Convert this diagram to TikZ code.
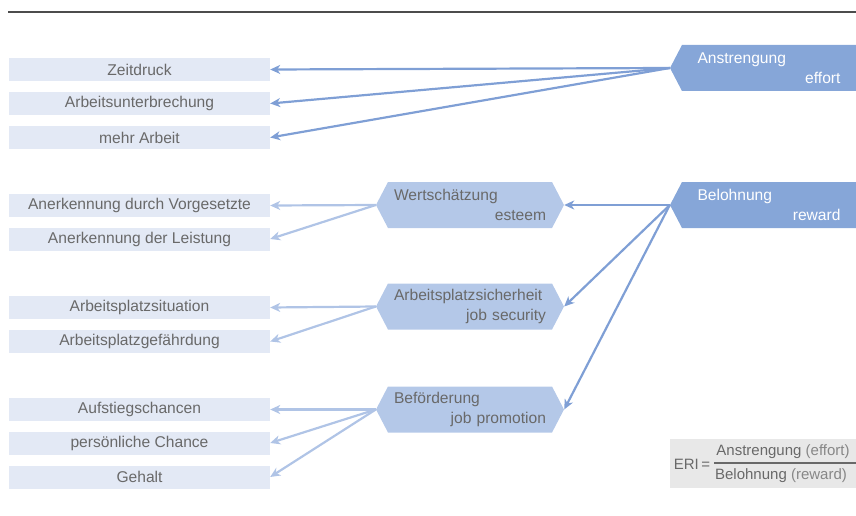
\documentclass[tikz,border=0pt]{standalone}
\usepackage{fontspec}
\setmainfont{Liberation Sans}
\usepackage{tikz}
\usetikzlibrary{arrows.meta, shapes.symbols}
\usepackage{xcolor}
\definecolor{boxblue}{RGB}{227,233,245}
\definecolor{darkhex}{RGB}{134,166,216}
\definecolor{lighthex}{RGB}{180,200,232}
\definecolor{darkarrow}{RGB}{127,159,213}
\definecolor{lightarrow}{RGB}{176,196,230}
\definecolor{textgray}{RGB}{105,105,105}
\definecolor{formulabg}{RGB}{232,232,232}

\begin{document}
\begin{tikzpicture}[
    x=1pt, y=-1pt,
    item/.style={fill=boxblue, text=textgray, minimum width=261pt, minimum height=23pt, inner sep=0pt, font=\fontsize{15.6}{17}\selectfont},
    hex/.style={shape=signal, signal pointer angle=125, minimum height=46pt, inner sep=0pt, align=left, font=\fontsize{15.6}{20}\selectfont},
    mainhex/.style={hex, fill=darkhex, text=white, signal to=west, minimum width=186pt, text width=143pt},
    subhex/.style={hex, fill=lighthex, text=textgray, signal to=west and east, minimum width=188pt, text width=152pt},
    darkline/.style={draw=darkarrow, line width=2.2pt, -{Stealth[length=10pt,width=9pt,inset=3pt]}},
    lightline/.style={draw=lightarrow, line width=2.2pt, -{Stealth[length=10pt,width=9pt,inset=3pt]}}
]
    \useasboundingbox (0,0) rectangle (856,516);
    \draw[black!70, line width=1.5pt] (8,12) -- (856,12);

    % Nodes
    \node[item] (zeit) at (139.5,69.5) {Zeitdruck};
    \node[item] (unter) at (139.5,103.5) {Arbeitsunterbrechung};
    \node[item] (mehr) at (139.5,137.5) {mehr Arbeit};
    \node[item] (vorg) at (139.5,205.5) {Anerkennung durch Vorgesetzte};
    \node[item] (leist) at (139.5,239) {Anerkennung der Leistung};
    \node[item] (situ) at (139.5,307.5) {Arbeitsplatzsituation};
    \node[item] (gefahr) at (139.5,341.5) {Arbeitsplatzgefährdung};
    \node[item] (aufst) at (139.5,409.5) {Aufstiegschancen};
    \node[item] (chance) at (139.5,443) {persönliche Chance};
    \node[item] (gehalt) at (139.5,477) {Gehalt};

    \node[mainhex] (anst) at (769,68) {Anstrengung\\\hspace*{\fill}effort};
    \node[mainhex] (bel) at (769,205) {Belohnung\\\hspace*{\fill}reward};

    \node[subhex] (wert) at (470,205) {Wertschätzung\\\hspace*{\fill}esteem};
    \node[subhex] (sich) at (470,306.5) {Arbeitsplatzsicherheit\\\hspace*{\fill}job security};
    \node[subhex] (befo) at (470,409.5) {Beförderung\\\hspace*{\fill}job promotion};

    % Formula
    \node[fill=formulabg, minimum width=186pt, minimum height=49pt, anchor=north west] (eribox) at (670,439) {};
    \node[text=textgray, font=\fontsize{15}{17}\selectfont] (eri) at (692,464) {ERI\,=};
    \node[text=textgray, font=\fontsize{15}{17}\selectfont] (num) at (783,452) {Anstrengung \textcolor{textgray!80}{(effort)}};
    \node[text=textgray, font=\fontsize{15}{17}\selectfont] (den) at (781,476) {Belohnung \textcolor{textgray!80}{(reward)}};
    \draw[textgray, line width=1.2pt] (714,463) -- (856,463);

    % Arrows
    \draw[darkline] (anst.west) -- (zeit.east);
    \draw[darkline] (anst.west) -- (unter.east);
    \draw[darkline] (anst.west) -- (mehr.east);
    \draw[darkline] (bel.west) -- (wert.east);
    \draw[darkline] (bel.west) -- (sich.east);
    \draw[darkline] (bel.west) -- (befo.east);

    \draw[lightline] (wert.west) -- (vorg.east);
    \draw[lightline] (wert.west) -- (leist.east);
    \draw[lightline] (sich.west) -- (situ.east);
    \draw[lightline] (sich.west) -- (gefahr.east);
    \draw[lightline] (befo.west) -- (aufst.east);
    \draw[lightline] (befo.west) -- (chance.east);
    \draw[lightline] (befo.west) -- (gehalt.east);
\end{tikzpicture}
\end{document}
